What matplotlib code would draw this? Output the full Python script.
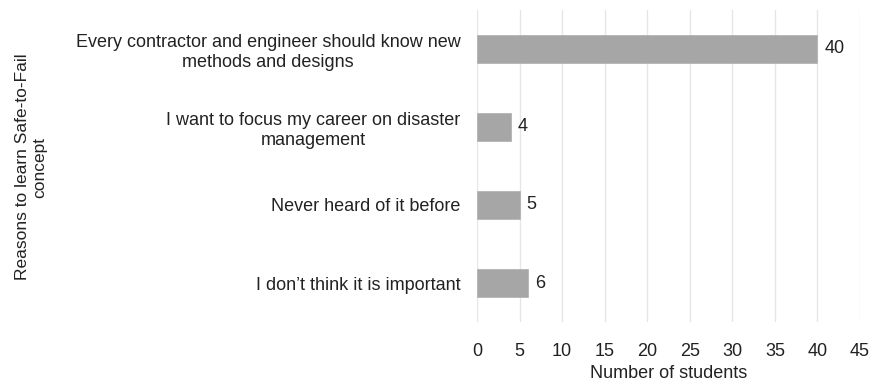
import matplotlib.pyplot as plt

plt.rcParams["font.family"] = ["Liberation Sans", "DejaVu Sans"]

# ── Data ──────────────────────────────────────────────────────────────────────
categories = [
    "Every contractor and engineer should know new\nmethods and designs",
    "I want to focus my career on disaster\nmanagement",
    "Never heard of it before",
    "I don\u2019t think it is important",
]
counts = [40, 4, 5, 6]
x_ticks = [0, 5, 10, 15, 20, 25, 30, 35, 40, 45]

FS = 13
TXT = "#222222"

# ── Figure ────────────────────────────────────────────────────────────────────
fig = plt.figure(figsize=(8.72, 3.85), dpi=100)
ax = fig.add_axes([477 / 872, 1 - 322 / 385, (860 - 477) / 872, (322 - 10) / 385])

ypos = list(range(len(categories)))
ax.barh(ypos, counts, height=0.35, color="#a6a6a6", edgecolor="#b4b4b4",
        linewidth=0.6, zorder=2)
for y, v in zip(ypos, counts):
    ax.text(v + 0.8, y, str(v), va="center", ha="left", fontsize=FS, color=TXT)

ax.set_xlim(0, 45)
ax.set_ylim(len(categories) - 0.5, -0.5)
ax.set_xticks(x_ticks)
ax.set_yticks(ypos)
ax.set_yticklabels(categories, fontsize=FS, color=TXT, multialignment="center",
                   linespacing=1.25)
ax.tick_params(axis="both", length=0, colors=TXT, labelsize=FS)
ax.tick_params(axis="y", pad=12)
ax.tick_params(axis="x", pad=15)
ax.grid(axis="x", color="#e6e6e6", linewidth=1, zorder=0)
for s in ax.spines.values():
    s.set_visible(False)

ax.set_xlabel("Number of students", fontsize=FS, color=TXT, labelpad=4)
fig.text(0.036, 1 - 167 / 385, "Reasons to learn Safe-to-Fail\nconcept", rotation=90,
         ha="center", va="center", fontsize=12.5, color=TXT, multialignment="center",
         linespacing=1.2)

fig.savefig("out.png", dpi=100)
